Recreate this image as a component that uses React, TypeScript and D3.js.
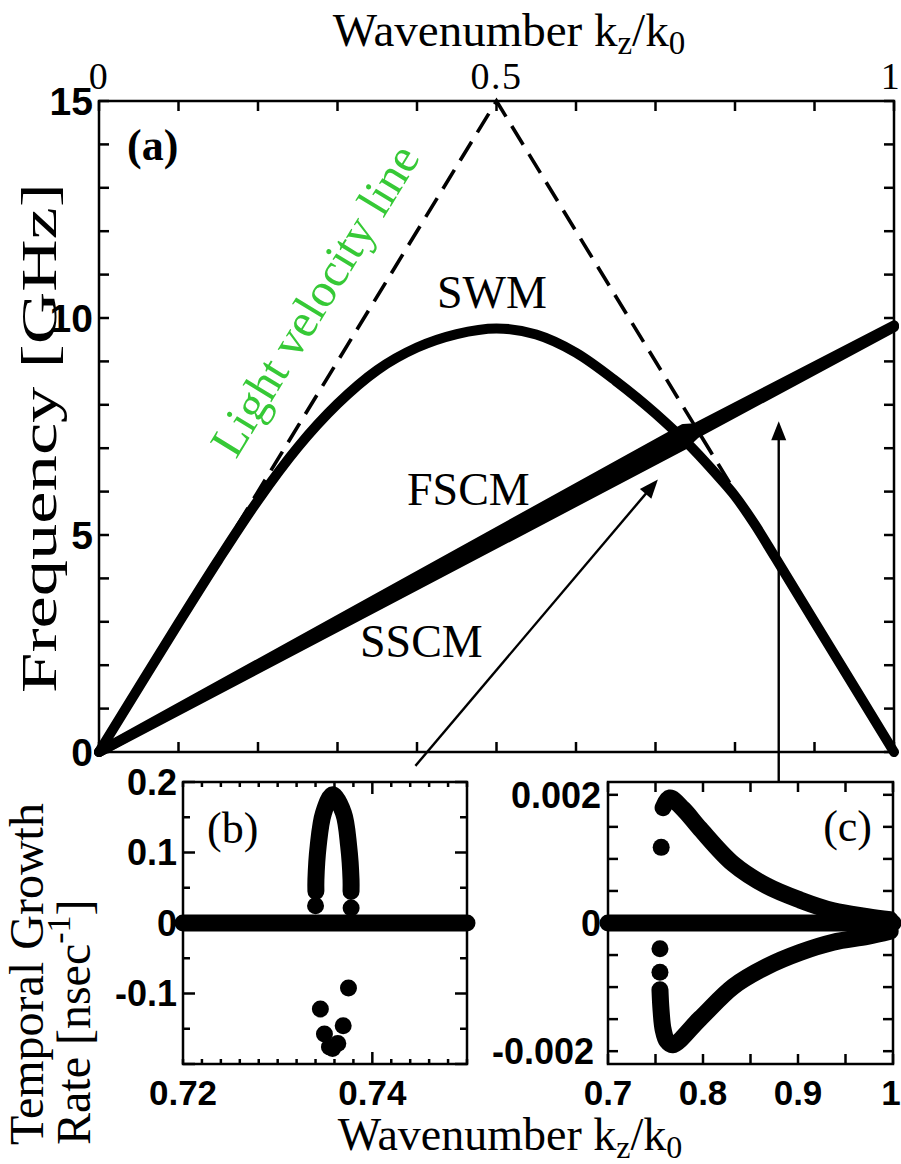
import React from 'react';
import * as d3 from 'd3';

// ---------- Panel (a): dispersion ----------
const aXTicks = [0, 0.1, 0.2, 0.3, 0.4, 0.5, 0.6, 0.7, 0.8, 0.9, 1];
const aXLabels = [{ v: 0, t: '0' }, { v: 0.5, t: '0.5' }, { v: 1, t: '1' }];
const aYTicks = d3.range(0, 16, 1);
const aYLabels = [0, 5, 10, 15];

const lightK = [0, 0.5, 1];
const lightF = [0, 15, 0];

const swmK = [0, 0.05, 0.1, 0.15, 0.2, 0.25, 0.3, 0.35, 0.4, 0.45, 0.5, 0.55, 0.6, 0.65, 0.7, 0.725, 0.75, 0.775, 0.8, 0.825, 0.85, 0.9, 0.95, 1];
const swmF = [0, 1.49, 2.97, 4.42, 5.8, 7.02, 8.02, 8.8, 9.32, 9.63, 9.76, 9.62, 9.2, 8.55, 7.8, 7.38, 6.93, 6.43, 5.9, 5.24, 4.5, 3.0, 1.5, 0];

const scmK = [0, 0.735, 0.75, 1];
const fscmF = [0, 7.44, 7.46, 9.83];
const sscmF = [0, 7.07, 7.33, 9.79];

// annotation arrows (panel a coordinates)
const arrows = [
  { k0: 0.398, f0: -0.32, k1: 0.703, f1: 6.28 },
  { k0: 0.855, f0: -0.7, k1: 0.855, f1: 7.62 },
];

// ---------- Panel (b) ----------
const bXTicks = d3.range(0, 16).map((i) => 0.72 + i * 0.002);
const bXLabels = [0.72, 0.74];
const bYTicks = [-0.2, -0.15, -0.1, -0.05, 0, 0.05, 0.1, 0.15, 0.2];
const bYLabels = [{ v: 0.2, t: '0.2' }, { v: 0.1, t: '0.1' }, { v: 0, t: '0' }, { v: -0.1, t: '-0.1' }];
const bZeroK = [0.72, 0.75];
const bZeroG = [0, 0];
const bArmK = [0.73404, 0.73404, 0.73428, 0.73484, 0.73582, 0.73695, 0.7375, 0.73775, 0.73775];
const bArmG = [0.045, 0.0614, 0.109, 0.156, 0.182, 0.156, 0.109, 0.0614, 0.0448];
const bDotK = [0.734, 0.73776, 0.73748, 0.73451, 0.73692, 0.73494, 0.73635, 0.73547, 0.7358];
const bDotG = [0.0245, 0.0213, -0.0922, -0.122, -0.1457, -0.1575, -0.171, -0.176, -0.178];

// ---------- Panel (c) ----------
const cXTicks = [0.7, 0.75, 0.8, 0.85, 0.9, 0.95, 1];
const cXLabels = [{ v: 0.7, t: '0.7' }, { v: 0.8, t: '0.8' }, { v: 0.9, t: '0.9' }, { v: 1, t: '1' }];
const cYTicks = [-0.002, -0.0015, -0.001, -0.0005, 0, 0.0005, 0.001, 0.0015, 0.002];
const cYLabels = [{ v: 0.002, t: '0.002' }, { v: 0, t: '0' }, { v: -0.002, t: '-0.002' }];
const cZeroK = [0.7, 1];
const cZeroG = [0, 0];
const cUpK = [0.758, 0.765, 0.779, 0.797, 0.832, 0.867, 0.902, 0.937, 0.973, 0.997];
const cUpG = [0.0018, 0.00195, 0.00178, 0.00147, 0.00092, 0.00058, 0.00036, 0.00019, 0.0001, 0.00005];
const cLoK = [0.7547, 0.7558, 0.758, 0.762, 0.768, 0.797, 0.832, 0.867, 0.902, 0.937, 0.973, 0.997];
const cLoG = [-0.00104, -0.00135, -0.00166, -0.00184, -0.0019, -0.00149, -0.00099, -0.00068, -0.00046, -0.0003, -0.00021, -0.00013];
const cDotK = [0.756, 0.7547, 0.7547];
const cDotG = [0.00118, -0.0004, -0.00077];

const serif = "'Liberation Serif', 'Times New Roman', serif";
const sans = "'Liberation Sans', Arial, sans-serif";

type Scale = d3.ScaleLinear<number, number>;

function Frame({ x, y, xt, yt, sw = 2.5 }: { x: Scale; y: Scale; xt: { v: number; l: number }[]; yt: { v: number; l: number }[]; sw?: number }) {
  const [x0, x1] = x.range();
  const [y0, y1] = y.range();
  return (
    <g stroke="#000" strokeWidth={sw} fill="none">
      <rect x={x0} y={y1} width={x1 - x0} height={y0 - y1} />
      {xt.map((t, i) => (
        <g key={'x' + i}>
          <line x1={x(t.v)} x2={x(t.v)} y1={y0} y2={y0 - t.l} />
          <line x1={x(t.v)} x2={x(t.v)} y1={y1} y2={y1 + t.l} />
        </g>
      ))}
      {yt.map((t, i) => (
        <g key={'y' + i}>
          <line x1={x0} x2={x0 + t.l} y1={y(t.v)} y2={y(t.v)} />
          <line x1={x1} x2={x1 - t.l} y1={y(t.v)} y2={y(t.v)} />
        </g>
      ))}
    </g>
  );
}

export default function App() {
  const xA = d3.scaleLinear().domain([0, 1]).range([99, 894]);
  const yA = d3.scaleLinear().domain([0, 15]).range([752, 101]);
  const xB = d3.scaleLinear().domain([0.72, 0.75]).range([183, 467]);
  const yB = d3.scaleLinear().domain([-0.2, 0.2]).range([1064, 782]);
  const xC = d3.scaleLinear().domain([0.7, 1]).range([608, 893]);
  const yC = d3.scaleLinear().domain([-0.0022, 0.0022]).range([1064, 782]);

  const lineA = (ks: number[], fs: number[], curve: d3.CurveFactory = d3.curveLinear) =>
    d3.line<number>().x((_, i) => xA(ks[i])).y((_, i) => yA(fs[i])).curve(curve)(ks) || '';
  const lineB = (ks: number[], gs: number[], curve: d3.CurveFactory = d3.curveLinear) =>
    d3.line<number>().x((_, i) => xB(ks[i])).y((_, i) => yB(gs[i])).curve(curve)(ks) || '';
  const lineC = (ks: number[], gs: number[], curve: d3.CurveFactory = d3.curveLinear) =>
    d3.line<number>().x((_, i) => xC(ks[i])).y((_, i) => yC(gs[i])).curve(curve)(ks) || '';

  const scmArea =
    d3.area<number>().x((_, i) => xA(scmK[i])).y0((_, i) => yA(sscmF[i])).y1((_, i) => yA(fscmF[i]))(scmK) || '';

  const rDot = 8.5;

  const arrowHead = (x0: number, y0: number, x1: number, y1: number) => {
    const a = Math.atan2(y1 - y0, x1 - x0);
    const L = 19, Wd = 7.5;
    const bx = x1 - L * Math.cos(a), by = y1 - L * Math.sin(a);
    const px = -Math.sin(a) * Wd, py = Math.cos(a) * Wd;
    return `M${x1},${y1}L${bx + px},${by + py}L${bx - px},${by - py}Z`;
  };

  return (
    <svg width={901} height={1164} style={{ position: 'absolute', left: 0, top: 0, background: '#fff' }}>
      <rect x={0} y={0} width={901} height={1164} fill="#fff" />

      {/* ---------------- Panel (a) ---------------- */}
      <Frame
        x={xA}
        y={yA}
        xt={aXTicks.map((v) => ({ v, l: 10 }))}
        yt={aYTicks.map((v) => ({ v, l: 10 }))}
      />
      <path d={lineA(lightK, lightF)} fill="none" stroke="#000" strokeWidth={3.6} strokeDasharray="22 11" />
      <path d={scmArea} fill="#000" />
      <path d={lineA(scmK, fscmF)} fill="none" stroke="#000" strokeWidth={10} strokeLinecap="round" strokeLinejoin="round" />
      <path d={lineA(scmK, sscmF)} fill="none" stroke="#000" strokeWidth={10} strokeLinecap="round" strokeLinejoin="round" />
      <path d={lineA(swmK, swmF, d3.curveMonotoneX)} fill="none" stroke="#000" strokeWidth={10} strokeLinecap="round" strokeLinejoin="round" />

      {arrows.map((a, i) => {
        const x0 = xA(a.k0), y0 = yA(a.f0), x1 = xA(a.k1), y1 = yA(a.f1);
        const ang = Math.atan2(y1 - y0, x1 - x0);
        return (
          <g key={i}>
            <line x1={x0} y1={y0} x2={x1 - 12 * Math.cos(ang)} y2={y1 - 12 * Math.sin(ang)} stroke="#000" strokeWidth={2.4} />
            <path d={arrowHead(x0, y0, x1, y1)} fill="#000" />
          </g>
        );
      })}

      {aYLabels.map((v) => (
        <text key={'ay' + v} x={93} y={yA(v)} dy="0.36em" textAnchor="end" fontFamily={sans} fontWeight="bold" fontSize={39}>
          {v}
        </text>
      ))}
      {aXLabels.map((d) => (
        <text key={'ax' + d.v} x={xA(d.v) - (d.v === 1 ? 3 : 0)} y={89} textAnchor="middle" fontFamily={serif} fontSize={38} letterSpacing={1.5}>
          {d.t}
        </text>
      ))}

      <text x={509} y={46} textAnchor="middle" fontFamily={serif} fontSize={47}>
        Wavenumber k<tspan fontSize={33} dy={8}>z</tspan>
        <tspan dy={-8}>/k</tspan>
        <tspan fontSize={33} dy={8}>0</tspan>
      </text>
      <text
        transform={`translate(56,438) rotate(-90)`}
        textAnchor="middle"
        fontFamily={serif}
        fontSize={50}
        textLength={510}
        lengthAdjust="spacingAndGlyphs"
      >
        Frequency [GHz]
      </text>

      <text x={127} y={160} fontFamily={serif} fontSize={44} fontWeight="bold">(a)</text>
      <text x={437} y={308} fontFamily={serif} fontSize={46}>SWM</text>
      <text x={407} y={505} fontFamily={serif} fontSize={46}>FSCM</text>
      <text x={360} y={657} fontFamily={serif} fontSize={46}>SSCM</text>
      <text transform={`translate(236,460) rotate(-58.6)`} fontFamily={serif} fontSize={48} fill="#36c936">
        Light velocity line
      </text>

      {/* ---------------- Panel (b) ---------------- */}
      <path d={lineB(bZeroK, bZeroG)} fill="none" stroke="#000" strokeWidth={rDot * 2} strokeLinecap="round" />
      <path d={lineB(bArmK, bArmG, d3.curveCatmullRom)} fill="none" stroke="#000" strokeWidth={rDot * 2} strokeLinecap="round" strokeLinejoin="round" />
      {bDotK.map((k, i) => (
        <circle key={'bd' + i} cx={xB(k)} cy={yB(bDotG[i])} r={rDot} fill="#000" />
      ))}
      <Frame
        x={xB}
        y={yB}
        xt={bXTicks.map((v, i) => ({ v, l: i === 10 ? 12 : 5 }))}
        yt={bYTicks.map((v, i) => ({ v, l: i % 2 === 0 ? 12 : 7 }))}
      />
      {bYLabels.map((d) => (
        <text key={'by' + d.v} x={177} y={yB(d.v)} dy="0.36em" textAnchor="end" fontFamily={sans} fontWeight="bold" fontSize={36}>
          {d.t}
        </text>
      ))}
      {bXLabels.map((v) => (
        <text key={'bx' + v} x={xB(v)} y={1105} textAnchor="middle" fontFamily={sans} fontWeight="bold" fontSize={35}>
          {v}
        </text>
      ))}
      <text x={207} y={843} fontFamily={serif} fontSize={44}>(b)</text>

      {/* ---------------- Panel (c) ---------------- */}
      <path d={lineC(cZeroK, cZeroG)} fill="none" stroke="#000" strokeWidth={rDot * 2} strokeLinecap="round" />
      <path d={lineC(cUpK, cUpG, d3.curveCatmullRom)} fill="none" stroke="#000" strokeWidth={rDot * 2} strokeLinecap="round" strokeLinejoin="round" />
      <path d={lineC(cLoK, cLoG, d3.curveCatmullRom)} fill="none" stroke="#000" strokeWidth={rDot * 2} strokeLinecap="round" strokeLinejoin="round" />
      {cDotK.map((k, i) => (
        <circle key={'cd' + i} cx={xC(k)} cy={yC(cDotG[i])} r={rDot} fill="#000" />
      ))}
      <Frame
        x={xC}
        y={yC}
        xt={cXTicks.map((v) => ({ v, l: 10 }))}
        yt={cYTicks.map((v) => ({ v, l: 10 }))}
      />
      {cYLabels.map((d) => (
        <text key={'cy' + d.v} x={d.v < 0 ? 594 : 601} y={yC(d.v)} dy="0.36em" textAnchor="end" fontFamily={sans} fontWeight="bold" fontSize={36}>
          {d.t}
        </text>
      ))}
      {cXLabels.map((d) => (
        <text key={'cx' + d.v} x={xC(d.v) - (d.v === 1 ? 2 : 0)} y={1105} textAnchor="middle" fontFamily={sans} fontWeight="bold" fontSize={35}>
          {d.t}
        </text>
      ))}
      <text x={872} y={841} textAnchor="end" fontFamily={serif} fontSize={44}>(c)</text>

      <text x={510} y={1150} textAnchor="middle" fontFamily={serif} fontSize={46}>
        Wavenumber k<tspan fontSize={32} dy={8}>z</tspan>
        <tspan dy={-8}>/k</tspan>
        <tspan fontSize={32} dy={8}>0</tspan>
      </text>
      <text transform={`translate(43,1145) rotate(-90)`} fontFamily={serif} fontSize={48}>
        Temporal Growth
      </text>
      <text transform={`translate(90,1145) rotate(-90)`} fontFamily={serif} fontSize={48}>
        Rate [nsec<tspan fontSize={34} dy={-20}>-1</tspan>
        <tspan dy={20}>]</tspan>
      </text>
    </svg>
  );
}
